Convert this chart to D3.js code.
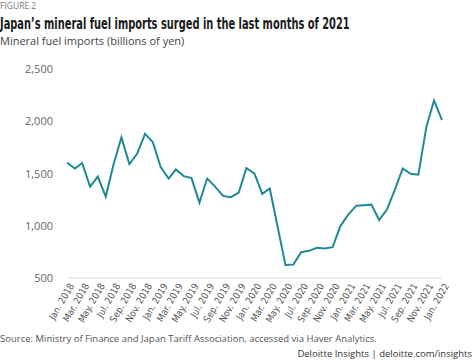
<!DOCTYPE html>
<html>
<head>
<meta charset="utf-8">
<script src="https://cdn.jsdelivr.net/npm/d3@7"></script>
<style>
  body { margin: 0; background: #fff; }
  svg { display: block; font-family: 'Open Sans', sans-serif; }
  .axis path, .axis line { display: none; }
</style>
</head>
<body>
<div id="chart"></div>
<script>
// Monthly mineral fuel imports, billions of yen, Jan 2018 - Jan 2022
var months = d3.range(0, 49).map(i => new Date(2018, i, 1))

var imports = [
  1606, 1548, 1600, 1375, 1471, 1279, 1584, 1846, 1590, 1689, 1879, 1802,
  1561, 1452, 1538, 1475, 1456, 1221, 1452, 1375, 1286, 1273, 1317, 1552,
  1500, 1305, 1356, 985, 625, 629, 747, 760, 789, 783, 795, 997,
  1106, 1192, 1196, 1202, 1055, 1158, 1343, 1548, 1497, 1488, 1946, 2199,
  2010
]

var yTicks = [500, 1000, 1500, 2000, 2500]

var margin = { top: 69, left: 67, right: 32, bottom: 83 }
var width = 474 - margin.left - margin.right
var height = 361 - margin.top - margin.bottom

var svg = d3
  .select('#chart')
  .append('svg')
  .attr('width', 474)
  .attr('height', 361)

var g = svg
  .append('g')
  .attr('transform', 'translate(' + margin.left + ',' + margin.top + ')')

// Titles
svg
  .append('text')
  .text('FIGURE 2')
  .attr('x', 0)
  .attr('y', 9)
  .attr('font-size', 8.5)
  .attr('fill', '#777')

// condensed bold title: squeeze horizontally to the reference width
var title = svg
  .append('text')
  .text('Japan\u2019s mineral fuel imports surged in the last months of 2021')
  .attr('x', 0)
  .attr('y', 0)
  .attr('font-size', 16)
  .attr('font-weight', 'bold')
  .attr('font-family', "'DejaVu Sans Condensed', 'DejaVu Sans', sans-serif")
  .attr('fill', '#1a1a1a')

var natural = title.node().getComputedTextLength()
var sx = Math.min(1, 350 / natural)
title.attr('transform', 'translate(0,29) scale(' + sx + ',1)')

svg
  .append('text')
  .text('Mineral fuel imports (billions of yen)')
  .attr('x', 0)
  .attr('y', 45)
  .attr('font-size', 11)
  .attr('fill', '#444')

// Scales
var xPositionScale = d3
  .scaleTime()
  .domain(d3.extent(months))
  .range([0, width])

var yPositionScale = d3
  .scaleLinear()
  .domain([500, 2500])
  .range([height, 0])

// Baseline
g.append('line')
  .attr('x1', 0)
  .attr('x2', width)
  .attr('y1', height)
  .attr('y2', height)
  .attr('stroke', '#ddd')
  .attr('stroke-width', 1)

// Line
var line = d3
  .line()
  .x((d, i) => xPositionScale(months[i]))
  .y(d => yPositionScale(d))

g.append('path')
  .datum(imports)
  .attr('d', line)
  .attr('fill', 'none')
  .attr('stroke', '#1f8a95')
  .attr('stroke-width', 2)

// Axes
var yAxis = d3
  .axisLeft(yPositionScale)
  .tickValues(yTicks)
  .tickSize(0)
  .tickPadding(14)
  .tickFormat(d3.format(','))

g.append('g')
  .attr('class', 'axis y-axis')
  .call(yAxis)
  .call(s => s.selectAll('text').attr('font-size', 11).attr('fill', '#666').attr('font-family', "'Open Sans', sans-serif"))

var fmt = d3.timeFormat('%b. %Y')
var xAxis = d3
  .axisBottom(xPositionScale)
  .tickValues(months.filter((d, i) => i % 2 === 0))
  .tickSize(0)
  .tickFormat(fmt)

g.append('g')
  .attr('class', 'axis x-axis')
  .attr('transform', 'translate(0,' + height + ')')
  .call(xAxis)
  .call(s =>
    s
      .selectAll('text')
      .attr('font-size', 9.5)
      .attr('fill', '#555')
      .attr('font-family', "'DejaVu Sans Condensed', sans-serif")
      .attr('text-anchor', 'end')
      .attr('dy', '0.35em')
      .attr('transform', 'translate(4,6) rotate(-60)')
      .attr('y', 0)
  )

// Footer
svg
  .append('text')
  .text('Source: Ministry of Finance and Japan Tariff Association, accessed via Haver Analytics.')
  .attr('x', 0)
  .attr('y', 342)
  .attr('font-size', 9.5)
  .attr('fill', '#555')

svg
  .append('text')
  .text('Deloitte Insights | deloitte.com/insights')
  .attr('x', 472)
  .attr('y', 357)
  .attr('text-anchor', 'end')
  .attr('font-size', 9.5)
  .attr('fill', '#333')
</script>
</body>
</html>
